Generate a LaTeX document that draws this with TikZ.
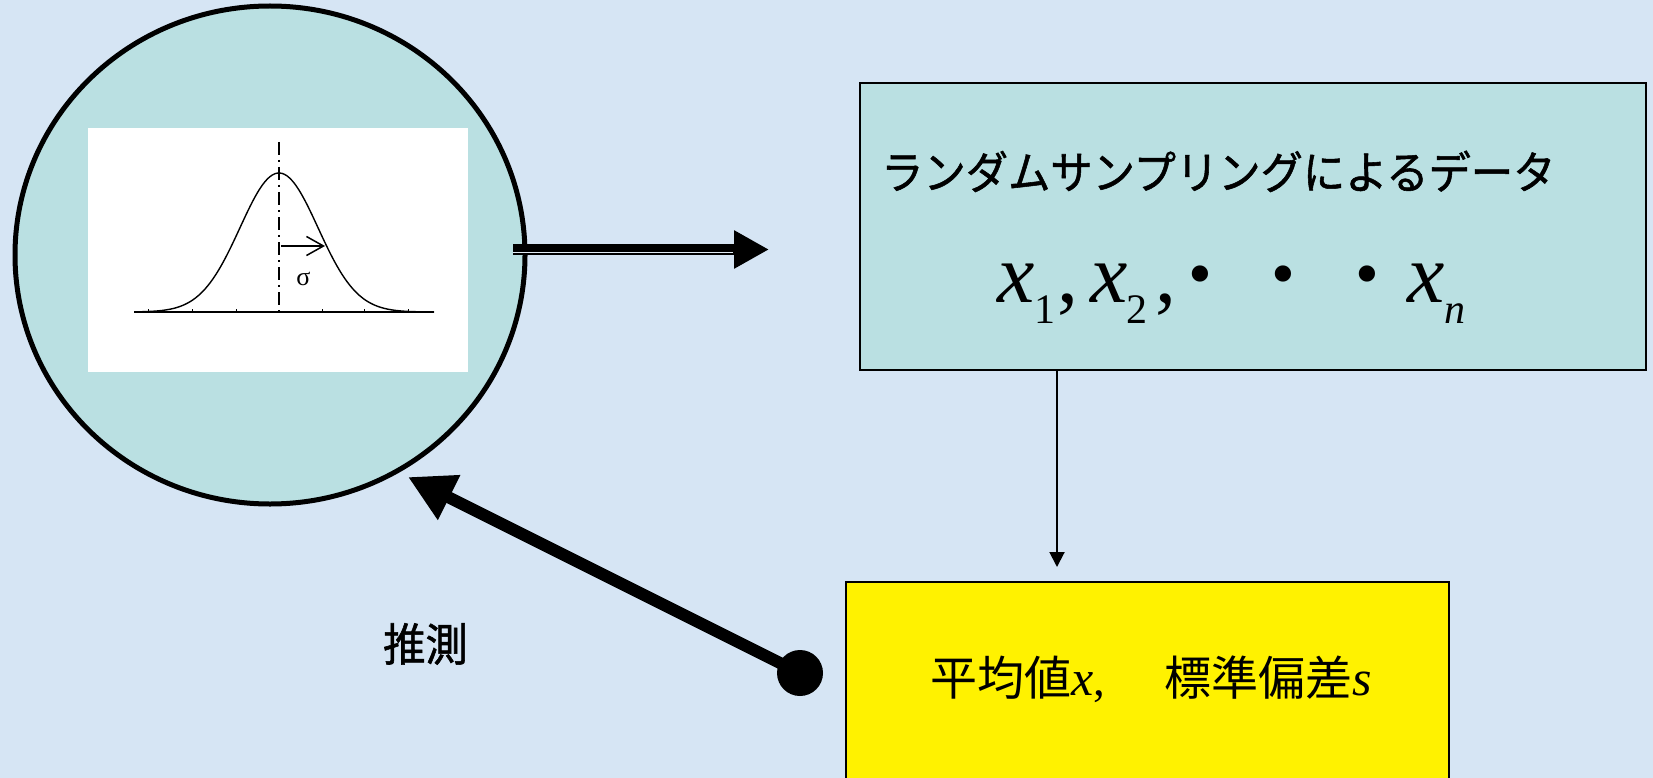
\documentclass[tikz,border=0pt]{standalone}
\usepackage{fontspec}
\setmainfont{Liberation Serif}
\newfontfamily\jp{Noto Sans CJK JP}
\newfontfamily\jpm{Noto Sans CJK JP}[FakeBold=1.2, FakeStretch=0.94]
\usetikzlibrary{arrows.meta,shapes.geometric}
\definecolor{bgblue}{RGB}{214,229,244}
\definecolor{tealfill}{RGB}{186,224,226}
\definecolor{gapline}{RGB}{225,235,245}
\newcommand\sbx[1]{\raisebox{-21pt}{\fontsize{42}{42}\selectfont #1}}
\tikzset{
  boxstyle/.style={draw=black, line width=2pt, inner sep=0pt},
  txt/.style={anchor=base west, inner sep=0pt},
  bigdot/.style={anchor=base, inner sep=0pt, font=\fontsize{68}{68}\selectfont},
}
\begin{document}
\begin{tikzpicture}[x=1pt,y=-1pt]
\fill[bgblue] (0,0) rectangle (1653,778);
\useasboundingbox (0,0) rectangle (1653,778);

% population circle
\node[draw=black, line width=5pt, ellipse, fill=tealfill, minimum width=510pt, minimum height=498pt, inner sep=0pt] (pop) at (270,255) {};
\node[fill=white, minimum width=380pt, minimum height=244pt, inner sep=0pt] (pic) at (278,250) {};

% bell curve
\draw[line width=1.3pt] (134,312) -- (434,312);
\foreach \t in {148,192,236,322,364,408} \draw[line width=1pt] (\t,312) -- (\t,308.5);
\draw[line width=1.4pt] plot[domain=138:434, samples=120, smooth] (\x, {312-139*exp(-0.5*((\x-279)/39)^2)});
\draw[line width=1.6pt, dash pattern=on 13pt off 5pt on 2pt off 5pt] (279,142) -- (279,312);
\coordinate (sa) at (281,246);
\coordinate (sb) at (325,246);
\draw[line width=1.5pt, -{Straight Barb[length=17pt,width=19pt]}] (sa) -- (sb);
\node[inner sep=0pt, font=\fontsize{26}{26}\selectfont] (sig) at (303.5,279) {σ};

% data box
\node[boxstyle, fill=tealfill, minimum width=786pt, minimum height=287pt] (data) at (1253,226.5) {};
\node[txt, font=\fontsize{45}{50}\selectfont\jpm] (dtitle) at (881,189) {ランダムサンプリングによるデータ};
\node[txt, font=\fontsize{84}{90}\selectfont] (xa) at (997,302) {\textit{x}\sbx{1}\kern2pt,\kern12pt\textit{x}\kern-1pt\sbx{2}\kern8pt,};
\node[bigdot] (d1) at (1200,296) {•};
\node[bigdot] (d2) at (1283,296) {•};
\node[bigdot] (d3) at (1367,296) {•};
\node[txt, font=\fontsize{84}{90}\selectfont] (xn) at (1407,302) {\textit{x}\sbx{\textit{n}}};

% result box
\node[boxstyle, fill=yellow, minimum width=603pt, minimum height=208pt] (res) at (1147.5,686) {};
\node[txt, font=\fontsize{47}{50}\selectfont] (rtext) at (930,695) {{\jp 平均値}{\fontsize{50}{50}\selectfont\textit{x}},\kern12pt{\jp 　標準偏差}{\fontsize{50}{50}\selectfont\textit{s}}};

% double arrow
\coordinate (da) at (513,249.5);
\coordinate (db) at (769,249.5);
\draw[line width=11pt, -{Triangle[length=35pt,width=36pt]}] (da) -- (db);
\draw[gapline, line width=1.5pt] ([yshift=-3pt]da) -- ([xshift=-36pt,yshift=-3pt]db);

% vertical arrow
\coordinate (vx) at (1057,567);
\draw[line width=2pt, -{Triangle[length=15pt,width=15pt]}] (data.south -| vx) -- (vx);

% inference arrow
\node[circle, fill=black, minimum size=46pt, inner sep=0pt] (dot) at (800,673) {};
\coordinate (tip) at (408,477);
\draw[line width=12pt, -{Triangle[length=46pt,width=47pt]}] (dot.center) -- (tip);
\node[txt, font=\fontsize{45}{50}\selectfont\jpm] (inf) at (383,661) {推測};
\end{tikzpicture}
\end{document}
